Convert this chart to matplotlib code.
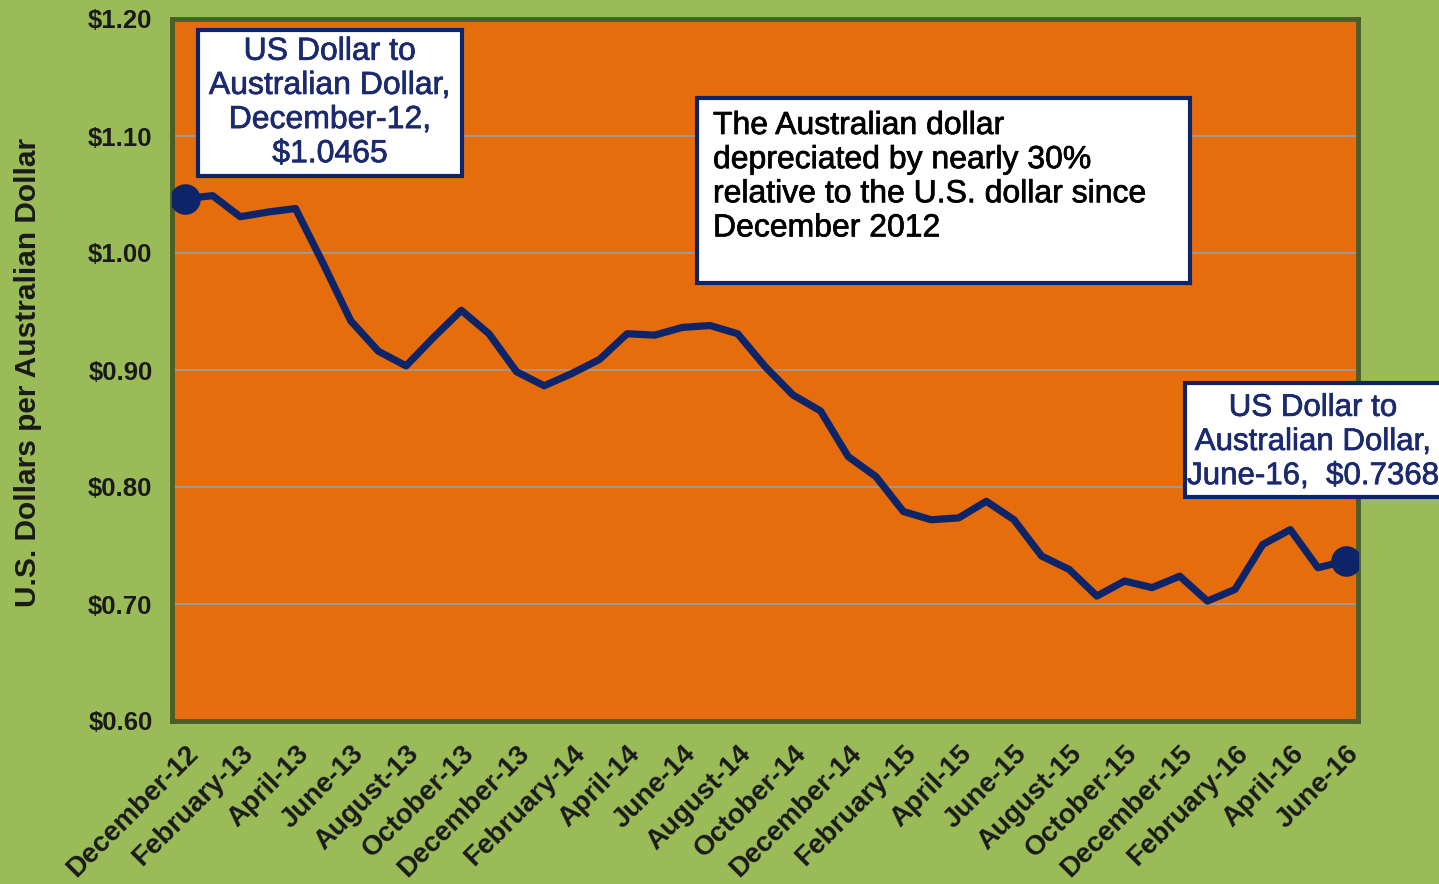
import matplotlib
matplotlib.use('Agg')
import matplotlib.pyplot as plt
from matplotlib.patches import Rectangle
import matplotlib.patheffects as pe

# monthly average US dollars per Australian dollar, Dec-2012 .. Jun-2016
months = ['December-12', 'January-13', 'February-13', 'March-13', 'April-13', 'May-13',
          'June-13', 'July-13', 'August-13', 'September-13', 'October-13', 'November-13',
          'December-13', 'January-14', 'February-14', 'March-14', 'April-14', 'May-14',
          'June-14', 'July-14', 'August-14', 'September-14', 'October-14', 'November-14',
          'December-14', 'January-15', 'February-15', 'March-15', 'April-15', 'May-15',
          'June-15', 'July-15', 'August-15', 'September-15', 'October-15', 'November-15',
          'December-15', 'January-16', 'February-16', 'March-16', 'April-16', 'May-16',
          'June-16']
rate = [1.0465, 1.0490, 1.0310, 1.0350, 1.0380, 0.9910, 0.9420, 0.9160, 0.9035, 0.9280,
        0.9510, 0.9310, 0.8985, 0.8865, 0.8970, 0.9090, 0.9310, 0.9298, 0.9364, 0.9380,
        0.9310, 0.9028, 0.8787, 0.8650, 0.8260, 0.8090, 0.7790, 0.7720, 0.7736, 0.7878,
        0.7720, 0.7410, 0.7295, 0.7068, 0.7196, 0.7140, 0.7238, 0.7025, 0.7125, 0.7508,
        0.7636, 0.7310, 0.7368]
yticks = [0.60, 0.70, 0.80, 0.90, 1.00, 1.10, 1.20]
ytick_labels = ['$0.60', '$0.70', '$0.80', '$0.90', '$1.00', '$1.10', '$1.20']

green = '#9BBB59'
orange = '#E56D0C'
navy = '#0E2468'
txtnavy = '#1B2A6E'
border = '#4A5E2A'

plt.rcParams['font.family'] = ['Liberation Sans', 'DejaVu Sans']

fig = plt.figure(figsize=(14.39, 8.84), dpi=100, facecolor=green)
W, H = 1439.0, 884.0
ax = fig.add_axes([172 / W, 1 - 721 / H, 1186 / W, 702 / H])
ax.set_facecolor(orange)

x = list(range(len(rate)))
ax.plot(x, rate, color=navy, lw=5.2, solid_joinstyle='round', zorder=3)
ax.plot([x[0], x[-1]], [rate[0], rate[-1]], 'o', color=navy, ms=21, zorder=4)

ax.set_xlim(-0.47, len(rate) - 1 + 0.45)
ax.set_ylim(0.60, 1.20)
ax.set_yticks(yticks)
ax.set_yticklabels(ytick_labels, fontsize=18.5, fontweight='bold', color='#1a1a1a')
ax.set_xticks(x[::2])
ax.set_xticklabels(months[::2], rotation=45, ha='right', va='top', rotation_mode='anchor',
                   fontsize=20, fontweight='bold', color='#1a1a1a')
ax.tick_params(axis='both', length=0)
ax.tick_params(axis='y', pad=14)
ax.tick_params(axis='x', pad=14)
ax.grid(axis='y', color='#9a9a9a', lw=1.4)
ax.set_axisbelow(True)
for s in ax.spines.values():
    s.set_color(border)
    s.set_linewidth(3.5)

fig.text(28 / W, 1 - 372 / H, 'U.S. Dollars per Australian Dollar', rotation=90,
         ha='center', va='center', fontsize=21.5, fontweight='bold', color='#1a1a1a')


def box(x0, y0, x1, y1):
    fig.patches.append(Rectangle((x0 / W, 1 - y1 / H), (x1 - x0) / W, (y1 - y0) / H,
                                 transform=fig.transFigure, facecolor='white',
                                 edgecolor=navy, lw=3, zorder=5))


def heavy(c):
    return [pe.withStroke(linewidth=0.5, foreground=c)]


box(198, 30, 462, 176)
fig.text(330 / W, 1 - 103 / H, 'US Dollar to\nAustralian Dollar,\nDecember-12,\n$1.0465',
         ha='center', va='center', multialignment='center', fontsize=23, color=txtnavy,
         linespacing=1.18, zorder=6, path_effects=heavy(txtnavy))

box(697, 98, 1190, 283)
fig.text(713 / W, 1 - 111 / H,
         'The Australian dollar\ndepreciated by nearly 30%\nrelative to the U.S. dollar since\nDecember 2012',
         ha='left', va='top', fontsize=23, color='black', linespacing=1.18, zorder=6,
         path_effects=heavy('black'))

box(1185, 383, 1445, 497)
fig.text(1313 / W, 1 - 442 / H, 'US Dollar to\nAustralian Dollar,\nJune-16,  $0.7368',
         ha='center', va='center', multialignment='center', fontsize=22.5, color=txtnavy,
         linespacing=1.18, zorder=6, path_effects=heavy(txtnavy))

fig.savefig('out.png', dpi=100, facecolor=green)
